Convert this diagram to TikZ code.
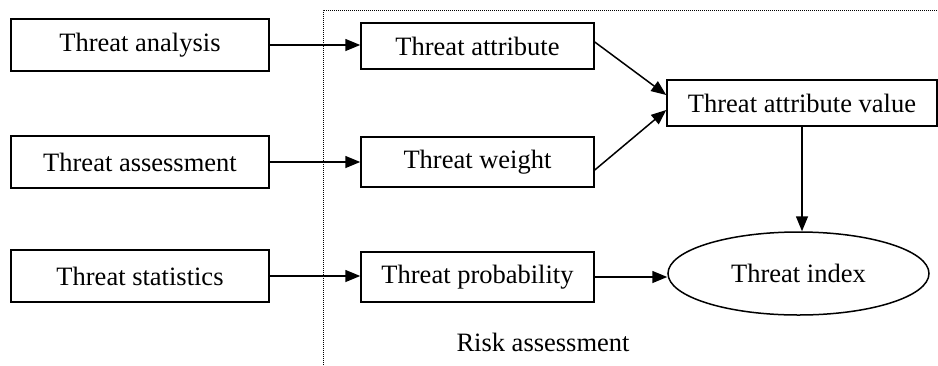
\documentclass[tikz,border=0pt]{standalone}
\usepackage{fontspec}
\setmainfont{Liberation Serif}
\usetikzlibrary{arrows.meta,shapes.geometric}
\begin{document}
\begin{tikzpicture}[x=1pt,y=-1pt,
  box/.style={draw,line width=1.5pt,inner sep=0pt,font=\fontsize{26.5}{30}\selectfont},
  conn/.style={line width=1.5pt,-{Triangle[length=15pt,width=12pt]}},
  frame/.style={line width=1pt,dash pattern=on 1pt off 1pt}]
\useasboundingbox (0,0) rectangle (938,365);
\node[box,minimum width=258pt,minimum height=52pt] (ta) at (140,45) {Threat analysis};
\node[box,minimum width=258pt,minimum height=52pt] (ts) at (140,162) {Threat assessment};
\node[box,minimum width=258pt,minimum height=52pt] (tst) at (140,276) {Threat statistics};
\node[box,minimum width=233pt,minimum height=46pt] (att) at (477.5,46) {Threat attribute};
\node[box,minimum width=233pt,minimum height=50pt] (wt) at (477.5,162) {Threat weight};
\node[box,minimum width=233pt,minimum height=50pt] (pr) at (477.5,277) {Threat probability};
\node[box,minimum width=270pt,minimum height=46pt] (tav) at (802,103) {Threat attribute value};
\node[box,ellipse,minimum width=261pt,minimum height=83pt] (ti) at (798.5,273.5) {Threat index};
\node[font=\fontsize{26.5}{30}\selectfont] (risk) at (543,342) {Risk assessment};
\draw[frame] (323,365) -- (323,10) -- (938,10);
\draw[conn] (ta.east) -- (ta.east -| att.west);
\draw[conn] (ts.east) -- (ts.east -| wt.west);
\draw[conn] (tst.east) -- (tst.east -| pr.west);
\draw[conn] ([yshift=4pt]att.east) -- ([yshift=8pt]tav.west);
\draw[conn] ([yshift=-8pt]wt.east) -- ([yshift=-7pt]tav.west);
\draw[conn] (tav.south) -- (tav.south |- ti.north);
\draw[conn] (pr.east) -- (pr.east -| ti.west);
\end{tikzpicture}
\end{document}
